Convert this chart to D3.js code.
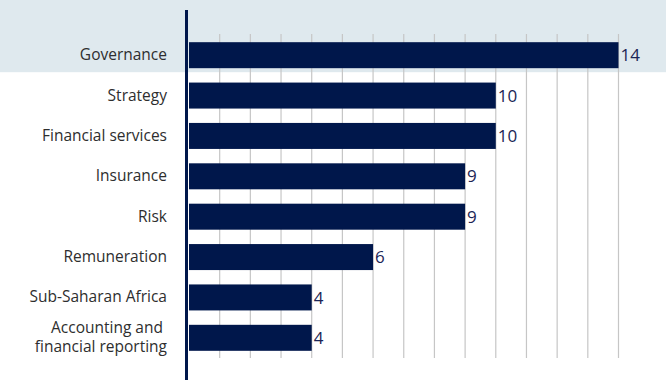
<!DOCTYPE html>
<html>
<head>
<meta charset="utf-8">
<script src="https://cdn.jsdelivr.net/npm/d3@7"></script>
<style>
  body { margin: 0; background: #fff; }
  svg { display: block; font-family: "Open Sans", sans-serif; }
</style>
</head>
<body>
<svg id="chart" width="666" height="380"></svg>
<script>
// data
let categories = [
  "Governance",
  "Strategy",
  "Financial services",
  "Insurance",
  "Risk",
  "Remuneration",
  "Sub-Saharan Africa",
  "Accounting and |financial reporting"
];
let counts = [14, 10, 10, 9, 9, 6, 4, 4];
let gridTicks = d3.range(1, 15);

let svg = d3.select("#chart");

let x = d3.scaleLinear().domain([0, 14]).range([189, 618.5]);
let y = d3.scaleBand().domain(categories).range([35, 358]).paddingInner(0.356).paddingOuter(0.178);

// highlighted band behind first row
svg
  .append("rect")
  .attr("x", 0)
  .attr("y", 0)
  .attr("width", 666)
  .attr("height", y(categories[0]) + y.bandwidth() + 4)
  .attr("fill", "#dfe9ee");

// vertical grid lines
svg
  .append("g")
  .selectAll("line")
  .data(gridTicks)
  .enter()
  .append("line")
  .attr("x1", (d) => x(d))
  .attr("x2", (d) => x(d))
  .attr("y1", 34)
  .attr("y2", 358)
  .attr("stroke", "#c6c6c6")
  .attr("stroke-width", 1.2);

// bars
svg
  .append("g")
  .selectAll("rect")
  .data(counts)
  .enter()
  .append("rect")
  .attr("x", x(0))
  .attr("y", (d, i) => y(categories[i]))
  .attr("width", (d) => x(d) - x(0))
  .attr("height", y.bandwidth())
  .attr("fill", "#00174b");

// value labels
svg
  .append("g")
  .selectAll("text")
  .data(counts)
  .enter()
  .append("text")
  .attr("x", (d) => x(d) + 2)
  .attr("y", (d, i) => y(categories[i]) + y.bandwidth() / 2)
  .attr("dy", "0.36em")
  .attr("fill", "#1b2555")
  .style("font-size", "17px")
  .text((d) => d);

// category labels (a "|" marks a line break)
let lineGap = 19;
let labels = svg
  .append("g")
  .selectAll("text")
  .data(categories)
  .enter()
  .append("text")
  .attr("text-anchor", "end")
  .attr("fill", "#2e2e2e")
  .style("font-size", "15.5px")
  .attr("y", (d) => y(d) + y.bandwidth() / 2);

labels
  .selectAll("tspan")
  .data((d) => {
    let parts = d.split("|");
    return parts.map((p, i) => ({ text: p, offset: (i - (parts.length - 1) / 2) * lineGap }));
  })
  .enter()
  .append("tspan")
  .attr("x", 167)
  .attr("dy", (p, i) => (i === 0 ? p.offset + 5 : lineGap))
  .text((p) => p.text);

// axis line
svg
  .append("line")
  .attr("x1", 186.5)
  .attr("x2", 186.5)
  .attr("y1", 10)
  .attr("y2", 380)
  .attr("stroke", "#00174b")
  .attr("stroke-width", 3);
</script>
</body>
</html>
